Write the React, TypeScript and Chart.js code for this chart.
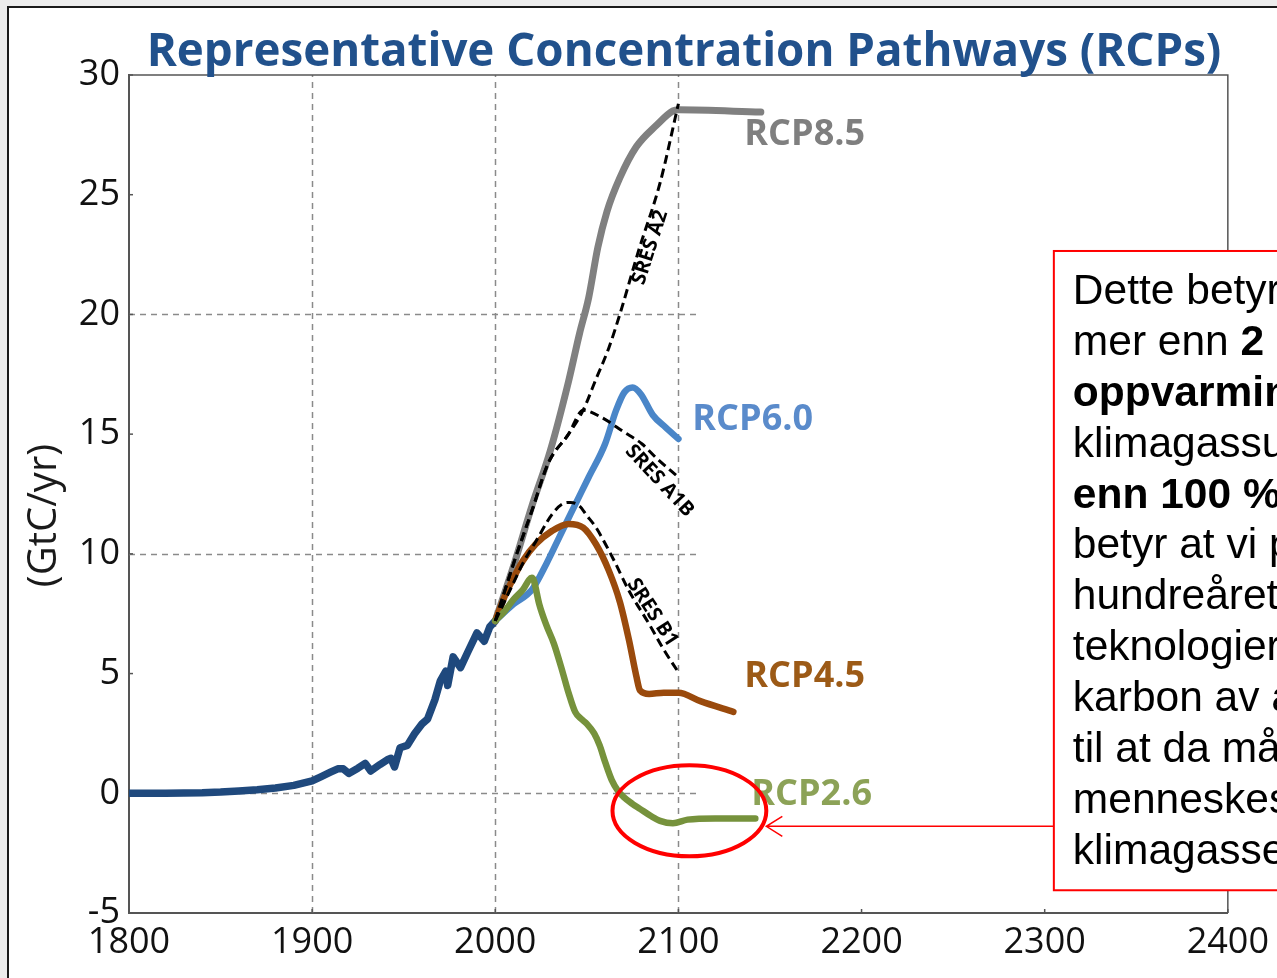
import React, { useEffect, useRef } from 'react';
import { Chart, registerables } from 'chart.js';

Chart.register(...registerables);

const W = 1277;
const H = 978;

// ---------- data ----------
const histYears = [1800, 1820, 1840, 1850, 1860, 1870, 1880, 1890, 1900, 1905, 1910, 1914, 1917, 1920, 1925, 1929, 1932, 1937, 1941, 1943, 1945, 1948, 1952, 1956, 1960, 1963, 1967, 1970, 1973, 1974, 1977, 1981, 1985, 1990, 1994, 1997, 2000];
const histValues = [0.0, 0.0, 0.02, 0.05, 0.1, 0.15, 0.22, 0.33, 0.52, 0.7, 0.88, 1.02, 1.02, 0.83, 1.05, 1.25, 0.93, 1.2, 1.4, 1.46, 1.1, 1.9, 2.0, 2.5, 2.9, 3.1, 3.9, 4.7, 5.1, 4.5, 5.7, 5.25, 5.9, 6.7, 6.35, 6.95, 7.2];

const rcp85Years = [2000, 2010, 2020, 2030, 2040, 2046, 2051, 2056, 2061, 2068, 2077, 2088, 2097, 2100, 2145];
const rcp85Values = [7.2, 9.5, 12.0, 14.3, 17.2, 19.2, 20.7, 22.8, 24.3, 25.7, 27.0, 27.9, 28.5, 28.55, 28.45];

const rcp60Years = [2000, 2010, 2020, 2028, 2035, 2041, 2051, 2060, 2066, 2070.5, 2075, 2079.5, 2086, 2093, 2100];
const rcp60Values = [7.2, 7.9, 8.5, 9.6, 10.7, 11.65, 13.2, 14.6, 16.0, 16.75, 16.95, 16.67, 15.8, 15.28, 14.8];

const rcp45Years = [2000, 2005, 2010, 2015, 2022, 2031, 2040, 2048, 2055, 2062, 2068, 2073, 2077, 2079, 2084, 2092, 2100, 2112, 2130];
const rcp45Values = [7.2, 8.2, 9.0, 9.7, 10.4, 10.96, 11.25, 11.1, 10.4, 9.3, 8.0, 6.4, 4.9, 4.3, 4.15, 4.2, 4.2, 3.85, 3.4];

const rcp26Years = [2000, 2005, 2010, 2015, 2020, 2021, 2024, 2028, 2032, 2037, 2040, 2043.6, 2047, 2050, 2054, 2057, 2060, 2063.6, 2067, 2070, 2075, 2079, 2085, 2090, 2097, 2105, 2120, 2142];
const rcp26Values = [7.2, 7.6, 8.1, 8.5, 9.0, 8.9, 7.9, 7.0, 6.25, 5.0, 4.2, 3.4, 3.1, 2.9, 2.5, 2.0, 1.3, 0.55, 0.1, -0.15, -0.45, -0.65, -0.95, -1.15, -1.25, -1.1, -1.05, -1.05];

const sresA2Years = [2000, 2010, 2020, 2029, 2040, 2048, 2055, 2062, 2068, 2078, 2090, 2100];
const sresA2Values = [7.2, 9.6, 11.8, 13.8, 15.0, 16.0, 17.3, 18.6, 20.0, 22.6, 25.5, 28.8];

const sresA1BYears = [2000, 2010, 2020, 2029, 2040, 2048, 2058, 2070, 2080, 2088, 2100];
const sresA1BValues = [7.2, 9.6, 11.8, 13.8, 15.0, 16.0, 15.7, 15.1, 14.6, 14.0, 13.2];

const sresB1Years = [2000, 2005, 2010, 2015, 2022, 2031, 2037, 2041, 2046, 2050, 2055, 2064, 2073, 2084, 2092, 2100];
const sresB1Values = [7.2, 8.0, 8.8, 9.6, 10.5, 11.65, 12.1, 12.15, 12.0, 11.6, 11.1, 9.85, 8.46, 7.07, 6.0, 5.05];

const xTicks = [1800, 1900, 2000, 2100, 2200, 2300, 2400];
const yTicks = [-5, 0, 5, 10, 15, 20, 25, 30];
const gridXValues = [1900, 2000, 2100];
const gridYValues = [0, 10, 20];

const titleText = 'Representative Concentration Pathways (RCPs)';
const yTitleText = '(GtC/yr)';

const seriesLabels = [
  { text: 'RCP8.5', year: 2136, value: 27.5, color: '#7F7F7F' },
  { text: 'RCP6.0', year: 2107.6, value: 15.6, color: '#5A8BCB' },
  { text: 'RCP4.5', year: 2136, value: 4.85, color: '#9C5A16' },
  { text: 'RCP2.6', year: 2139.8, value: -0.05, color: '#8CA257' },
];

const sresLabels = [
  { text: 'SRES A2', year: 2084.6, value: 22.8, angle: -72 },
  { text: 'SRES A1B', year: 2089.7, value: 13.05, angle: 47 },
  { text: 'SRES B1', year: 2085.8, value: 7.55, angle: 57 },
];

const boxLines: Array<Array<[string, boolean]>> = [
  [['Dette betyr at for å unngå', false]],
  [['mer enn ', false], ['2 graders', true]],
  [['oppvarming', true], [' må', false]],
  [['klimagassutslippene', false]],
  [['enn 100 %', true], ['. Det', false]],
  [['betyr at vi på slutten av', false]],
  [['hundreåret trenger', false]],
  [['teknologier for å fjerne', false]],
  [['karbon av atmosfæren', false]],
  [['til at da må', false]],
  [['menneskeskapte', false]],
  [['klimagassene', false]],
];

const mk = (xs: number[], ys: number[]) => xs.map((x, i) => ({ x, y: ys[i] }));

const annotationPlugin = {
  id: 'annotations',
  beforeDraw(chart: any) {
    const ctx = chart.ctx;
    ctx.save();
    ctx.fillStyle = '#ECECEC';
    ctx.fillRect(0, 0, W, H);
    ctx.fillStyle = '#FFFFFF';
    ctx.fillRect(9, 8, W - 9, H - 8);
    ctx.strokeStyle = '#1a1a1a';
    ctx.lineWidth = 2;
    ctx.beginPath();
    ctx.moveTo(8, H);
    ctx.lineTo(8, 7);
    ctx.lineTo(W, 7);
    ctx.stroke();
    ctx.restore();
  },
  beforeDatasetsDraw(chart: any) {
    const ctx = chart.ctx;
    const xs = chart.scales.x;
    const ys = chart.scales.y;
    const a = chart.chartArea;
    ctx.save();
    ctx.strokeStyle = '#8a8a8a';
    ctx.lineWidth = 1.5;
    ctx.setLineDash([6, 5]);
    gridXValues.forEach((v) => {
      const px = Math.round(xs.getPixelForValue(v)) + 0.5;
      ctx.beginPath();
      ctx.moveTo(px, a.bottom);
      ctx.lineTo(px, a.top);
      ctx.stroke();
    });
    gridYValues.forEach((v) => {
      const py = Math.round(ys.getPixelForValue(v)) + 0.5;
      ctx.beginPath();
      ctx.moveTo(a.left, py);
      ctx.lineTo(xs.getPixelForValue(2112), py);
      ctx.stroke();
    });
    ctx.setLineDash([]);
    ctx.strokeStyle = '#555';
    ctx.lineWidth = 1.5;
    ctx.beginPath();
    ctx.moveTo(a.left, a.top);
    ctx.lineTo(a.right, a.top);
    ctx.lineTo(a.right, a.bottom);
    ctx.stroke();
    yTicks.forEach((v) => {
      const py = ys.getPixelForValue(v);
      ctx.beginPath();
      ctx.moveTo(a.left, py);
      ctx.lineTo(a.left + 4, py);
      ctx.stroke();
    });
    xTicks.forEach((v) => {
      const px = xs.getPixelForValue(v);
      ctx.beginPath();
      ctx.moveTo(px, a.bottom);
      ctx.lineTo(px, a.bottom - 4);
      ctx.stroke();
    });
    ctx.restore();
  },
  afterDatasetsDraw(chart: any) {
    const ctx = chart.ctx;
    const xs = chart.scales.x;
    const ys = chart.scales.y;
    ctx.save();

    ctx.textAlign = 'left';
    ctx.textBaseline = 'middle';
    ctx.font = 'bold 36px "Open Sans"';
    seriesLabels.forEach((l) => {
      ctx.fillStyle = l.color;
      ctx.fillText(l.text, xs.getPixelForValue(l.year), ys.getPixelForValue(l.value));
    });

    ctx.font = 'bold 20px "Open Sans"';
    ctx.fillStyle = '#000';
    ctx.textAlign = 'center';
    sresLabels.forEach((l) => {
      ctx.save();
      ctx.translate(xs.getPixelForValue(l.year), ys.getPixelForValue(l.value));
      ctx.rotate((l.angle * Math.PI) / 180);
      ctx.fillText(l.text, 0, 0);
      ctx.restore();
    });

    const cx = xs.getPixelForValue(2106);
    const cy = ys.getPixelForValue(-0.73);
    const rx = xs.getPixelForValue(2106 + 42) - cx;
    const ry = ys.getPixelForValue(-0.73 - 1.9) - cy;
    ctx.strokeStyle = '#FF0000';
    ctx.lineWidth = 4;
    ctx.beginPath();
    ctx.ellipse(cx, cy, rx, ry, 0, 0, Math.PI * 2);
    ctx.stroke();

    const bx = xs.getPixelForValue(2305);
    const by = ys.getPixelForValue(22.65);
    const bb = ys.getPixelForValue(-4.05);
    ctx.fillStyle = '#FFFFFF';
    ctx.fillRect(bx, by, W - bx + 10, bb - by);
    ctx.strokeStyle = '#FF0000';
    ctx.lineWidth = 2;
    ctx.strokeRect(bx, by, W - bx + 10, bb - by);

    const ay = ys.getPixelForValue(-1.38);
    const tip = xs.getPixelForValue(2148);
    ctx.lineWidth = 1.5;
    ctx.beginPath();
    ctx.moveTo(bx, ay);
    ctx.lineTo(tip, ay);
    ctx.moveTo(tip + 16, ay - 10);
    ctx.lineTo(tip, ay);
    ctx.lineTo(tip + 16, ay + 10);
    ctx.stroke();

    ctx.fillStyle = '#000';
    ctx.textAlign = 'left';
    ctx.textBaseline = 'alphabetic';
    boxLines.forEach((runs, i) => {
      let x = bx + 19;
      const y = by + 53 + i * 50.9;
      runs.forEach(([t, b]) => {
        ctx.font = (b ? 'bold ' : '') + '42.5px "Liberation Sans"';
        ctx.fillText(t, x, y);
        x += ctx.measureText(t).width;
      });
    });

    ctx.fillStyle = '#21518C';
    ctx.textAlign = 'center';
    ctx.textBaseline = 'alphabetic';
    ctx.font = 'bold 45px "Open Sans"';
    const tw = ctx.measureText(titleText).width;
    const fs = (45 * 1075) / tw;
    ctx.font = `bold ${fs.toFixed(2)}px "Open Sans"`;
    ctx.fillText(titleText, 684, 66);

    ctx.save();
    ctx.fillStyle = '#1a1a1a';
    ctx.font = '40px "Open Sans"';
    ctx.translate(45, ys.getPixelForValue(11.6));
    ctx.rotate(-Math.PI / 2);
    ctx.textAlign = 'center';
    ctx.textBaseline = 'middle';
    ctx.fillText(yTitleText, 0, 0);
    ctx.restore();

    ctx.restore();
  },
};

export default function App() {
  const ref = useRef<HTMLCanvasElement>(null);
  useEffect(() => {
    if (!ref.current) return;
    const lineBase = {
      pointRadius: 0,
      fill: false,
      cubicInterpolationMode: 'monotone' as const,
      borderCapStyle: 'round' as const,
      borderJoinStyle: 'round' as const,
    };
    const dashed = { ...lineBase, borderColor: '#000', borderWidth: 3, borderDash: [9, 5], borderCapStyle: 'butt' as const };
    const chart = new Chart(ref.current, {
      type: 'line',
      data: {
        datasets: [
          { ...dashed, label: 'SRES A2', data: mk(sresA2Years, sresA2Values) },
          { ...dashed, label: 'SRES A1B', data: mk(sresA1BYears, sresA1BValues) },
          { ...dashed, label: 'SRES B1', data: mk(sresB1Years, sresB1Values) },
          { ...lineBase, label: 'RCP2.6', data: mk(rcp26Years, rcp26Values), borderColor: '#76923C', borderWidth: 6.5 },
          { ...lineBase, label: 'RCP4.5', data: mk(rcp45Years, rcp45Values), borderColor: '#9A4A0C', borderWidth: 6.5 },
          { ...lineBase, label: 'RCP6.0', data: mk(rcp60Years, rcp60Values), borderColor: '#4A86C8', borderWidth: 6.5 },
          { ...lineBase, label: 'RCP8.5', data: mk(rcp85Years, rcp85Values), borderColor: '#808080', borderWidth: 7 },
          { ...lineBase, cubicInterpolationMode: 'default' as const, tension: 0, label: 'Historical', data: mk(histYears, histValues), borderColor: '#1F497D', borderWidth: 7.5 },
        ] as any,
      },
      options: {
        animation: false,
        responsive: false,
        devicePixelRatio: 1,
        layout: { padding: { left: 0, top: 75, right: 48, bottom: 0 } },
        plugins: { legend: { display: false }, tooltip: { enabled: false }, title: { display: false } },
        scales: {
          x: {
            type: 'linear',
            min: 1800,
            max: 2400,
            afterBuildTicks: (s: any) => {
              s.ticks = xTicks.map((v) => ({ value: v }));
            },
            afterFit: (s: any) => {
              s.height = H - 913;
            },
            grid: { display: false, drawTicks: false },
            border: { display: true, color: '#555', width: 2 },
            ticks: {
              padding: 8,
              color: '#111',
              font: { family: 'Open Sans', size: 36 },
              maxRotation: 0,
              autoSkip: false,
              callback: (v: any) => String(v),
            },
          },
          y: {
            type: 'linear',
            min: -5,
            max: 30,
            afterBuildTicks: (s: any) => {
              s.ticks = yTicks.map((v) => ({ value: v }));
            },
            afterFit: (s: any) => {
              s.width = 129;
            },
            grid: { display: false, drawTicks: false },
            border: { display: true, color: '#555', width: 2 },
            ticks: {
              padding: 9,
              color: '#111',
              font: { family: 'Open Sans', size: 36 },
              autoSkip: false,
              callback: (v: any) => String(v),
            },
          },
        },
      } as any,
      plugins: [annotationPlugin],
    });
    return () => chart.destroy();
  }, []);
  return (
    <div style={{ position: 'absolute', left: 0, top: 0, width: W, height: H }}>
      <canvas ref={ref} width={W} height={H} style={{ display: 'block' }} />
    </div>
  );
}
